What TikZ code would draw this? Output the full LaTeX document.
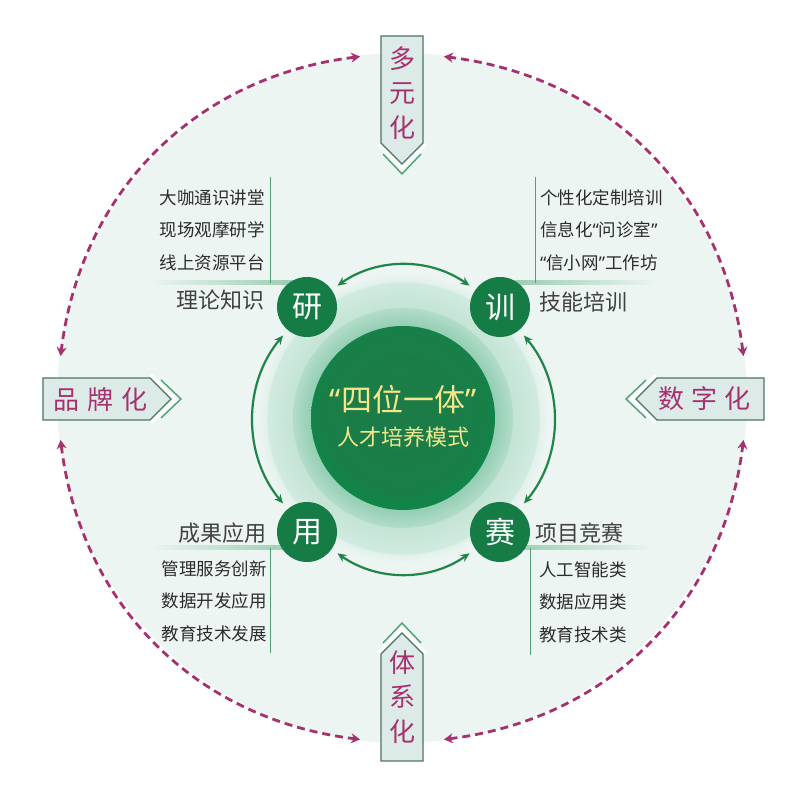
\documentclass[tikz,border=0pt]{standalone}
\usepackage{fontspec}
\setmainfont{Noto Sans CJK SC}
\newfontfamily\quotefont{Noto Sans}
\usetikzlibrary{calc,arrows.meta}
\definecolor{bgring}{HTML}{EDF5F2}
\definecolor{deepgreen}{HTML}{167C45}
\definecolor{arcgreen}{HTML}{1F8549}
\definecolor{plum}{HTML}{A5326F}
\definecolor{boxfill}{HTML}{DCEBE7}
\definecolor{boxline}{HTML}{4E7465}
\definecolor{bandgreen}{HTML}{98CDB0}
\definecolor{rulegreen}{HTML}{4FA074}
\definecolor{inktext}{HTML}{2C2C2C}
\definecolor{gold}{HTML}{F3E68C}
\definecolor{haloA}{HTML}{C4E4D5}
\definecolor{haloB}{HTML}{D0EADF}
\definecolor{haloC}{HTML}{E2F1EB}
\definecolor{ringA}{HTML}{94CEB3}
\definecolor{ringB}{HTML}{B2DCC9}
\definecolor{coreA}{HTML}{1D7B47}
\definecolor{coreB}{HTML}{118448}
\pgfdeclareradialshading{halo}{\pgfpoint{0bp}{0bp}}{color(0bp)=(haloA); color(18.8bp)=(haloA); color(23.2bp)=(haloB); color(23.4bp)=(haloC); color(25bp)=(bgring); color(50bp)=(bgring)}
\pgfdeclareradialshading{ring}{\pgfpoint{0bp}{0bp}}{color(0bp)=(ringA); color(20.9bp)=(ringA); color(25bp)=(ringB); color(50bp)=(ringB)}
\pgfdeclareradialshading{core}{\pgfpoint{0bp}{3bp}}{color(0bp)=(coreA); color(22bp)=(coreA!60!coreB); color(25bp)=(coreB); color(50bp)=(coreB)}
\tikzset{dasharc/.style={
    {Stealth[length=9pt,width=10pt]}-{Stealth[length=9pt,width=10pt]},
    plum, line width=2.8pt, dash pattern=on 8pt off 5pt}}
\tikzset{garc/.style={
    {Stealth[length=9pt,width=8pt]}-{Stealth[length=9pt,width=8pt]},
    arcgreen, line width=2.2pt, shorten >=7pt, shorten <=7pt}}
\tikzset{tagbox/.style={
    fill=boxfill, draw=boxline, line width=1.2pt, line join=miter}}
\tikzset{glow/.style={white, line width=3pt}}
\tikzset{vee/.style={rulegreen, line width=1.4pt}}
\tikzset{tagtxt/.style={
    text=plum, inner sep=0, font=\fontsize{26}{34.5}\selectfont, align=center}}
\tikzset{seat/.style={
    circle, fill=deepgreen, text=white, minimum size=60, inner sep=0,
    font=\fontsize{30}{30}\selectfont}}
\tikzset{listtxt/.style={
    text=inktext, inner sep=0, font=\fontsize{17.5}{32.5}\selectfont}}
\tikzset{cattxt/.style={
    text=inktext!90, inner sep=0, font=\fontsize{22}{22}\selectfont}}
\tikzset{rule/.style={rulegreen, line width=1pt}}
\newcommand\oq{{\quotefont “}}
\newcommand\cq{{\quotefont ”}}

\begin{document}
\begin{tikzpicture}[x=1pt,y=1pt]
\useasboundingbox (0,0) rectangle (806,786);
\fill[white] (0,0) rectangle (806,786);

  % fond
\coordinate (bg) at (402,388);
\fill[bgring] (bg) circle (345);

  % arcs en pointillé
\foreach \s in {7,97,187,277}{
  \path (bg) ++(\s:344) coordinate (p) (bg) ++(\s+76:344) coordinate (q);
  \draw[dasharc] (p) to[bend right=38] (q);
}

  % étiquettes
\foreach \x/\y/\a in {402/622/0, 171/387/90, 402/153/180, 636/387/-90}{
  \begin{scope}[shift={(\x,\y)}, rotate=\a]
    \draw[vee] (-19,10) -- (0,-10) -- (19,10);
    \draw[glow] (-24,20) -- (0,-4) -- (24,20);
    \draw[tagbox] (0,0) -- (21,21) -- (21,128) -- (-21,128) -- (-21,21) -- cycle;
  \end{scope}
}
\node[tagtxt] (duo) at (402,693) {多\\元\\化};
\node[tagtxt] (ti) at (402,89) {体\\系\\化};
\node[tagtxt] (pin) at (100.5,386) {品\hspace{8pt}牌\hspace{8pt}化};
\node[tagtxt] (shu) at (704.5,387) {数\hspace{7pt}字\hspace{7pt}化};

  % cercles du centre
\coordinate (hc) at (403,368);
\shade[shading=halo] (hc) circle (146);
\shade[shading=ring] (hc) circle (110);

  % traits
\shade[left color=bgring, right color=bandgreen] (147,501) rectangle (295,505);
\shade[left color=bandgreen, right color=bgring] (512,501) rectangle (660,505);
\shade[left color=bgring, right color=bandgreen] (147,236) rectangle (295,240);
\shade[left color=bandgreen, right color=bgring] (512,236) rectangle (655,240);
\draw[rule] (270,609) -- (270,503);
\draw[rule] (535,609) -- (535,503);
\draw[rule] (270,238) -- (270,133);
\draw[rule] (530,238) -- (530,131);

\node[circle, minimum size=184, inner sep=0, shading=core] (hub) at (hc) {};
\node[text=gold, inner sep=0, font=\fontsize{31}{31}\selectfont] (motto) at ($(hub)+(0,18)$) {\oq 四位一体\cq};
\node[text=gold, inner sep=0, font=\fontsize{22}{22}\selectfont] (mode) at ($(hub)+(0,-19)$) {人才培养模式};

\node[seat] (yan) at (307,479) {研};
\node[seat] (xun) at (500,479) {训};
\node[seat] (yong) at (307,254) {用};
\node[seat] (sai) at (500,254) {赛};

\draw[garc] (yan) to[bend left=35] (xun);
\draw[garc] (xun) to[bend left=40] (sai);
\draw[garc] (sai) to[bend left=35] (yong);
\draw[garc] (yong) to[bend left=40] (yan);

  % textes
\node[cattxt, anchor=east] (yantag) at (265,486) {理论知识};
\node[cattxt, anchor=west] (xuntag) at (539,484) {技能培训};
\node[cattxt, anchor=east] (yongtag) at (267,253) {成果应用};
\node[cattxt, anchor=west] (saitag) at (535,253) {项目竞赛};

\node[listtxt, anchor=east, align=right] (yanlist) at (265,556) {大咖通识讲堂\\现场观摩研学\\线上资源平台};
\node[listtxt, anchor=west, align=left] (xunlist) at (540,556) {个性化定制培训\\信息化\oq 问诊室\cq\\\oq 信小网\cq 工作坊};
\node[listtxt, anchor=east, align=right] (yonglist) at (267,185) {管理服务创新\\数据开发应用\\教育技术发展};
\node[listtxt, anchor=west, align=left] (sailist) at (539,184) {人工智能类\\数据应用类\\教育技术类};
\end{tikzpicture}
\end{document}
